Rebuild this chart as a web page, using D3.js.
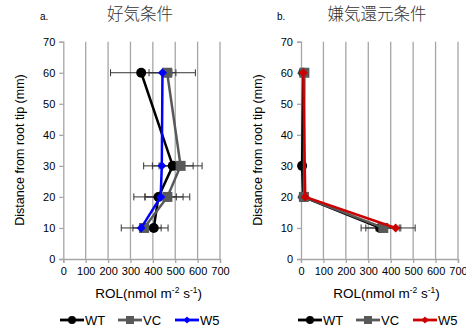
<!DOCTYPE html>
<html><head><meta charset="utf-8">
<script src="https://cdn.jsdelivr.net/npm/d3@7"></script>
<style>body{margin:0;background:#fff}svg{display:block}</style>
</head><body>
<script>
// ---- data ----
const depths = [60, 30, 20, 10];
const xTicks = [0, 100, 200, 300, 400, 500, 600, 700];
const yTicks = [0, 10, 20, 30, 40, 50, 60, 70];
const seriesNames = ["WT", "VC", "W5"];
// panel a (aerobic)
const wtA = [348, 489, 425, 404];
const wtAErr = [137, 91, 110, 64];
const vcA = [464, 524, 465, 361];
const vcAErr = [126, 96, 100, 50];
const w5A = [443, 440, 435, 348];
const w5AErr = [60, 81, 70, 89];
// panel b (anaerobic reducing)
const wtB = [10, 5, 10, 353];
const wtBErr = [0, 0, 0, 85];
const vcB = [15, null, 13, 367];
const vcBErr = [0, null, 0, 78];
const w5B = [10, null, 19, 422];
const w5BErr = [0, null, 0, 87];

const W = 466, H = 333;
const svg = d3.select("body").append("svg").attr("width", W).attr("height", H);
const font = "'Liberation Sans', Arial, sans-serif";

function panel(opt) {
  const x = d3.scaleLinear().domain([0, 700]).range([opt.x0, opt.x1]);
  const y = d3.scaleLinear().domain([0, 70]).range([259, 41.7]);
  const g = svg.append("g");
  // grid
  g.selectAll(".grid").data(xTicks.slice(1)).join("line")
    .attr("x1", d => x(d)).attr("x2", d => x(d))
    .attr("y1", y(70)).attr("y2", y(0))
    .attr("stroke", "#a6a6a6").attr("stroke-width", 1.3);
  // axes
  const ya = g.append("g").attr("transform", `translate(${opt.x0},0)`)
    .call(d3.axisLeft(y).tickValues(yTicks).tickSize(4).tickPadding(4));
  const xa = g.append("g").attr("transform", `translate(0,${y(0)})`)
    .call(d3.axisBottom(x).tickValues(xTicks).tickSize(4).tickPadding(4));
  [ya, xa].forEach(a => {
    a.select(".domain").attr("stroke", "#a6a6a6").attr("stroke-width", 1.3);
    a.selectAll(".tick line").attr("stroke", "#a6a6a6").attr("stroke-width", 1.3);
    a.selectAll("text").attr("font-family", font).attr("font-size", 11).attr("fill", "#000");
  });
  // titles
  g.append("text").attr("x", opt.labX).attr("y", 20).attr("font-family", font)
    .attr("font-size", 10).text(opt.lab);
  g.append("text").attr("x", opt.titleX).attr("y", 20).attr("text-anchor", "middle")
    .attr("font-family", "'Noto Sans CJK JP', sans-serif").attr("font-size", 16.5)
    .attr("font-weight", 300).attr("fill", "#333").text(opt.title);
  g.append("text").attr("transform", `translate(${opt.x0 - 39},${150}) rotate(-90)`)
    .attr("text-anchor", "middle").attr("font-family", font).attr("font-size", 12.5)
    .text("Distance from root tip (mm)");
  const xt = g.append("text").attr("x", (opt.x0 + opt.x1) / 2 + 7).attr("y", 298)
    .attr("text-anchor", "middle").attr("font-family", font).attr("font-size", 13.5);
  xt.append("tspan").text("ROL(nmol m");
  xt.append("tspan").attr("font-size", 8.5).attr("dy", -5).text("-2");
  xt.append("tspan").attr("dy", 5).text(" s");
  xt.append("tspan").attr("font-size", 8.5).attr("dy", -5).text("-1");
  xt.append("tspan").attr("dy", 5).text(")");

  // error bars
  opt.series.forEach(s => {
    const pts = depths.map((d, i) => ({d, v: s.vals[i], e: s.errs[i]})).filter(p => p.v != null && p.e > 0);
    const eg = g.append("g").attr("stroke", "#333").attr("stroke-width", 1);
    pts.forEach(p => {
      eg.append("line").attr("x1", x(p.v - p.e)).attr("x2", x(p.v + p.e)).attr("y1", y(p.d)).attr("y2", y(p.d));
      [p.v - p.e, p.v + p.e].forEach(v => eg.append("line").attr("x1", x(v)).attr("x2", x(v))
        .attr("y1", y(p.d) - 3.5).attr("y2", y(p.d) + 3.5));
    });
  });
  // lines + markers
  opt.series.forEach(s => {
    const pts = depths.map((d, i) => ({d, v: s.vals[i]})).filter(p => p.v != null);
    g.append("path").datum(pts)
      .attr("d", d3.line().x(p => x(p.v)).y(p => y(p.d)))
      .attr("fill", "none").attr("stroke", s.color).attr("stroke-width", 2.5);
    pts.forEach(p => marker(g, s.shape, x(p.v), y(p.d), s.color));
  });
  // legend
  opt.series.forEach((s, i) => {
    const lx = opt.legX[i], ly = 320;
    g.append("line").attr("x1", lx).attr("x2", lx + 24).attr("y1", ly).attr("y2", ly)
      .attr("stroke", s.color).attr("stroke-width", 2.8);
    marker(g, s.shape, lx + 12, ly, s.color, 0.8);
    g.append("text").attr("x", lx + 25).attr("y", ly + 5).attr("font-family", font)
      .attr("font-size", 13).text(s.name);
  });
}

function marker(g, shape, cx, cy, color, k = 1) {
  if (shape === "circle") {
    g.append("circle").attr("cx", cx).attr("cy", cy).attr("r", 5 * k).attr("fill", color);
  } else if (shape === "square") {
    const s = 10 * k;
    g.append("rect").attr("x", cx - s / 2).attr("y", cy - s / 2).attr("width", s).attr("height", s).attr("fill", color);
  } else {
    const r = 4.5 * k;
    g.append("path").attr("d", `M${cx},${cy - r}L${cx + r},${cy}L${cx},${cy + r}L${cx - r},${cy}Z`).attr("fill", color);
  }
}

panel({
  x0: 63.3, x1: 220, lab: "a.", labX: 40, title: "好気条件", titleX: 140,
  legX: [60, 118, 175],
  series: [
    {name: seriesNames[0], vals: wtA, errs: wtAErr, color: "#000", shape: "circle"},
    {name: seriesNames[1], vals: vcA, errs: vcAErr, color: "#595959", shape: "square"},
    {name: seriesNames[2], vals: w5A, errs: w5AErr, color: "#0000ff", shape: "diamond"}
  ]
});
panel({
  x0: 301, x1: 458, lab: "b.", labX: 277, title: "嫌気還元条件", titleX: 377,
  legX: [298, 356, 413],
  series: [
    {name: seriesNames[0], vals: wtB, errs: wtBErr, color: "#000", shape: "circle"},
    {name: seriesNames[1], vals: vcB, errs: vcBErr, color: "#595959", shape: "square"},
    {name: seriesNames[2], vals: w5B, errs: w5BErr, color: "#cc0000", shape: "diamond"}
  ]
});
</script>
</body></html>
